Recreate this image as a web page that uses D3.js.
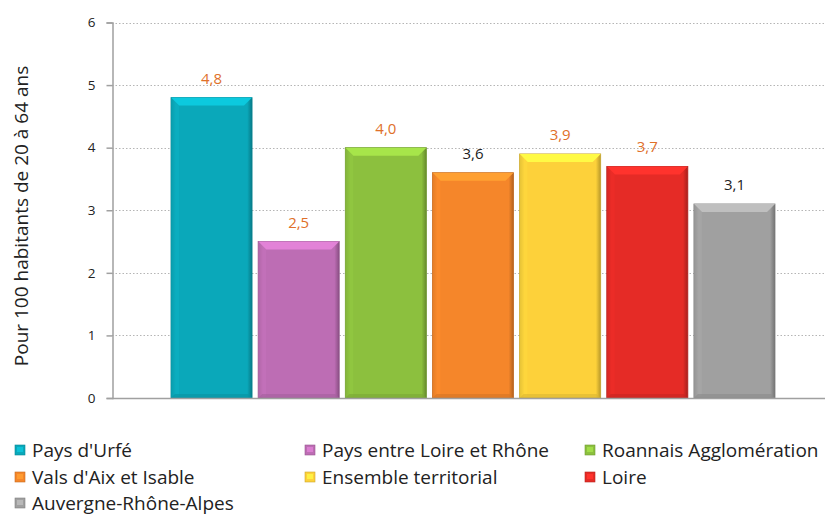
<!DOCTYPE html>
<html><head><meta charset="utf-8">
<script src="https://cdn.jsdelivr.net/npm/d3@7"></script>
<style>body{margin:0;background:#fff}svg{display:block;font-family:"Open Sans",sans-serif}</style>
</head><body><svg id="c" width="825" height="516"></svg>
<script>
const categories = ["Pays d'Urfé","Pays entre Loire et Rhône","Roannais Agglomération","Vals d'Aix et Isable","Ensemble territorial","Loire","Auvergne-Rhône-Alpes"];
const values = [4.8, 2.5, 4.0, 3.6, 3.9, 3.7, 3.1];
const valueLabels = ["4,8","2,5","4,0","3,6","3,9","3,7","3,1"];
const colors = ["#0aa8ba","#bd6db4","#8cc03e","#f5862a","#fdd13a","#e52b26","#a0a0a0"];
const labelColors = ["#e0702a","#e0702a","#e0702a","#222","#e0702a","#e0702a","#222"];
const yTicks = [0,1,2,3,4,5,6];
const yTitle = "Pour 100 habitants de 20 à 64 ans";

const svg = d3.select("#c");
const x = d3.scaleBand().domain(categories).range([112, 834]).paddingInner(0.07).paddingOuter(0.677);
const y = d3.scaleLinear().domain([0,6]).range([398, 22.5]);

const defs = svg.append("defs");
colors.forEach((c,i)=>{
  const g = defs.append("linearGradient").attr("id","g"+i).attr("x1",0).attr("x2",1).attr("y1",0).attr("y2",0);
  const base = d3.color(c);
  g.append("stop").attr("offset","0%").attr("stop-color",base.darker(0.6));
  g.append("stop").attr("offset","6%").attr("stop-color",base);
  g.append("stop").attr("offset","94%").attr("stop-color",base);
  g.append("stop").attr("offset","100%").attr("stop-color",base.darker(0.9));
});

// gridlines
svg.append("g").selectAll("line").data(yTicks.filter(d=>d>0)).join("line")
  .attr("x1",112).attr("x2",825).attr("y1",d=>Math.round(y(d))+0.5).attr("y2",d=>Math.round(y(d))+0.5)
  .attr("stroke","#b5b5b5").attr("stroke-width",1.2).attr("stroke-dasharray","1.5,2");

// y axis
const ya = svg.append("g").attr("transform","translate(112.5,0)").call(d3.axisLeft(y).tickValues(yTicks).tickSize(6).tickPadding(11).tickFormat(d3.format("d")));
ya.select(".domain").attr("stroke","#a0a0a0").attr("stroke-width",1.5);
ya.selectAll(".tick line").attr("stroke","#a0a0a0").attr("stroke-width",1.5);
ya.selectAll(".tick text").attr("font-size",13.5).attr("fill","#222").attr("font-family","Open Sans");

// bars
const bars = svg.append("g").selectAll("g").data(categories).join("g");
bars.append("rect").attr("x",d=>x(d)).attr("y",(d,i)=>y(values[i])).attr("width",x.bandwidth())
  .attr("height",(d,i)=>y(0)-y(values[i])).attr("fill",(d,i)=>`url(#g${i})`)
  .attr("stroke",(d,i)=>d3.color(colors[i]).darker(0.7)).attr("stroke-width",0.8);
// top bevel
bars.append("path").attr("d",(d,i)=>{
  const x0=x(d), x1=x0+x.bandwidth(), t=y(values[i]), b=8;
  return `M${x0},${t}L${x1},${t}L${x1-b},${t+b}L${x0+b},${t+b}Z`;
}).attr("fill",(d,i)=>d3.color(colors[i]).brighter(0.5));
bars.append("path").attr("d",(d,i)=>{
  const x0=x(d), x1=x0+x.bandwidth(), t=y(values[i]), b=8;
  return `M${x0},${t}L${x0+b},${t+b}L${x0+b},${y(0)-2}L${x0},${y(0)}Z`;
}).attr("fill",(d,i)=>d3.color(colors[i]).brighter(0.15)).attr("opacity",0.5);
// bottom shade
bars.append("path").attr("d",(d,i)=>{
  const x0=x(d), x1=x0+x.bandwidth(), bt=y(0), b=4;
  return `M${x0},${bt}L${x1},${bt}L${x1-b},${bt-b}L${x0+b},${bt-b}Z`;
}).attr("fill",(d,i)=>d3.color(colors[i]).darker(0.4)).attr("opacity",0.6);

// value labels
svg.append("g").selectAll("text").data(categories).join("text")
  .attr("x",d=>x(d)+x.bandwidth()/2).attr("y",(d,i)=>y(values[i])-14)
  .attr("text-anchor","middle").attr("font-size",15).attr("fill",(d,i)=>labelColors[i])
  .text((d,i)=>valueLabels[i]);

// x axis line
svg.append("line").attr("x1",112).attr("x2",825).attr("y1",398.5).attr("y2",398.5).attr("stroke","#a0a0a0").attr("stroke-width",1.5);

// y title
svg.append("text").attr("transform","translate(28,216) rotate(-90)").attr("text-anchor","middle")
  .attr("font-size",19).attr("fill","#222").text(yTitle);

// legend
const lx = [15, 305, 585], ly = [450, 477, 503];
const leg = svg.append("g").selectAll("g").data(categories).join("g")
  .attr("transform",(d,i)=>`translate(${lx[i%3]},${ly[Math.floor(i/3)]})`);
leg.append("rect").attr("x",0).attr("y",-5).attr("width",10).attr("height",10)
  .attr("fill",(d,i)=>colors[i]).attr("stroke",(d,i)=>d3.color(colors[i]).darker(0.6)).attr("stroke-width",0.6);
leg.append("rect").attr("x",2).attr("y",-3).attr("width",6).attr("height",5)
  .attr("fill",(d,i)=>d3.color(colors[i]).brighter(0.4));
leg.append("text").attr("x",17).attr("y",0).attr("dy","0.35em").attr("font-size",19).attr("fill","#222").text(d=>d);
</script></body></html>
